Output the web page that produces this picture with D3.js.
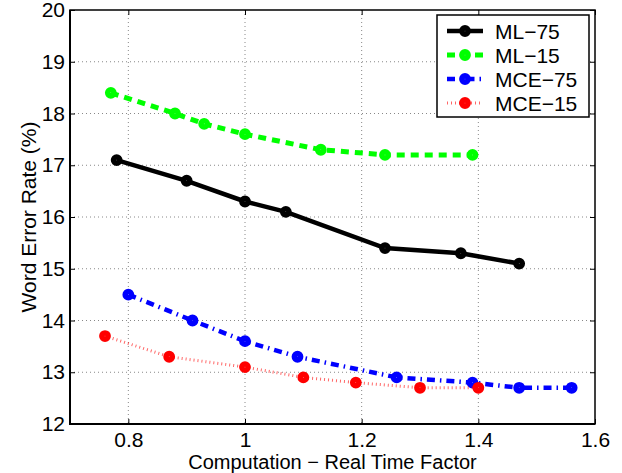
<html>
<head>
<script src="https://d3js.org/d3.v7.min.js"></script>
<style>
  body { margin:0; background:#fff; }
  text { font-family: "Liberation Sans", Arial, sans-serif; fill:#000; }
</style>
</head>
<body>
<svg id="chart" width="622" height="473"></svg>
<script>
// data
var names = ["ML\u221275", "ML\u221215", "MCE\u221275", "MCE\u221215"];
var mlx75 = [0.78, 0.90, 1.00, 1.07, 1.24, 1.37, 1.47];
var mly75 = [17.1, 16.7, 16.3, 16.1, 15.4, 15.3, 15.1];
var mlx15 = [0.77, 0.88, 0.93, 1.00, 1.13, 1.24, 1.39];
var mly15 = [18.4, 18.0, 17.8, 17.6, 17.3, 17.2, 17.2];
var mcex75 = [0.80, 0.91, 1.00, 1.09, 1.26, 1.39, 1.47, 1.56];
var mcey75 = [14.5, 14.0, 13.6, 13.3, 12.9, 12.8, 12.7, 12.7];
var mcex15 = [0.76, 0.87, 1.00, 1.10, 1.19, 1.30, 1.40];
var mcey15 = [13.7, 13.3, 13.1, 12.9, 12.8, 12.7, 12.7];
var xTicks = [0.8, 1.0, 1.2, 1.4, 1.6];
var yTicks = [12, 13, 14, 15, 16, 17, 18, 19, 20];

// plot box
var pL = 70, pR = 595, pT = 10, pB = 424;
var svg = d3.select("#chart");
var x = d3.scaleLinear().domain([0.7, 1.6]).range([pL, pR]);
var y = d3.scaleLinear().domain([12, 20]).range([pB, pT]);

// grid
var grid = svg.append("g").attr("stroke", "#888").attr("stroke-width", 1)
  .attr("stroke-dasharray", "1,3");
grid.selectAll(".gx").data(xTicks.filter(function(d){ return d < 1.6; })).enter()
  .append("line").attr("x1", function(d){ return x(d); }).attr("x2", function(d){ return x(d); })
  .attr("y1", pT).attr("y2", pB);
grid.selectAll(".gy").data(yTicks.filter(function(d){ return d > 12 && d < 20; })).enter()
  .append("line").attr("y1", function(d){ return y(d); }).attr("y2", function(d){ return y(d); })
  .attr("x1", pL).attr("x2", pR);

// axes (ticks pointing inward)
svg.append("g").attr("transform", "translate(0," + pB + ")")
  .call(d3.axisBottom(x).tickValues(xTicks).tickSize(-5).tickPadding(8)
    .tickFormat(function(d){ return d === 1 ? "1" : d3.format(".1f")(d); }));
svg.append("g").attr("transform", "translate(" + pL + ",0)")
  .call(d3.axisLeft(y).tickValues(yTicks).tickSize(-5).tickPadding(5));
svg.append("g").attr("transform", "translate(0," + pT + ")")
  .call(d3.axisTop(x).tickValues(xTicks).tickSize(-5).tickFormat(""));
svg.append("g").attr("transform", "translate(" + pR + ",0)")
  .call(d3.axisRight(y).tickValues(yTicks).tickSize(-5).tickFormat(""));
svg.selectAll(".domain").remove();
svg.selectAll(".tick line").attr("stroke", "#000").attr("stroke-width", 1);
svg.selectAll(".tick text").style("font-size", "21px").style("font-family", "Liberation Sans, Arial, sans-serif");
svg.append("rect").attr("x", pL).attr("y", pT).attr("width", pR - pL).attr("height", pB - pT)
  .attr("fill", "none").attr("stroke", "#000").attr("stroke-width", 1.5);
// heavier left/bottom edge like the reference
svg.append("path").attr("d", "M" + pL + "," + pT + "V" + pB + "H" + pR)
  .attr("fill", "none").attr("stroke", "#000").attr("stroke-width", 2);

// labels
svg.append("text").attr("x", (pL + pR) / 2).attr("y", 469).attr("text-anchor", "middle")
  .style("font-size", "20px").text("Computation \u2212 Real Time Factor");
svg.append("text").attr("transform", "translate(36," + ((pT + pB) / 2) + ") rotate(-90)")
  .attr("text-anchor", "middle").style("font-size", "21px").text("Word Error Rate (%)");

// series
var series = [
  { name: names[0], xs: mlx75, ys: mly75, color: "#000000", width: 4.5, dash: null, opacity: 1 },
  { name: names[1], xs: mlx15, ys: mly15, color: "#00ff00", width: 5, dash: "8,6", opacity: 1 },
  { name: names[2], xs: mcex75, ys: mcey75, color: "#0000ff", width: 4.5, dash: "8,5,1.5,5", opacity: 1 },
  { name: names[3], xs: mcex15, ys: mcey15, color: "#ff0000", width: 3, dash: "1,3", opacity: 0.6 }
];
var line = d3.line().x(function(d){ return x(d[0]); }).y(function(d){ return y(d[1]); });

series.forEach(function(s) {
  var pts = s.xs.map(function(v, i){ return [v, s.ys[i]]; });
  svg.append("path").datum(pts).attr("d", line)
    .attr("fill", "none").attr("stroke", s.color).attr("stroke-width", s.width)
    .attr("stroke-dasharray", s.dash).attr("stroke-opacity", s.opacity);
  svg.selectAll(null).data(pts).enter().append("circle")
    .attr("cx", function(d){ return x(d[0]); }).attr("cy", function(d){ return y(d[1]); })
    .attr("r", 3.1).attr("fill", "#fff").attr("stroke", s.color).attr("stroke-width", 5.6);
});

// legend
var lg = svg.append("g");
lg.append("rect").attr("x", 437).attr("y", 15).attr("width", 152).attr("height", 102)
  .attr("fill", "#fff").attr("stroke", "#000").attr("stroke-width", 1.5);
series.forEach(function(s, i) {
  var ly = 31 + i * 24;
  lg.append("line").attr("x1", 447).attr("x2", 483).attr("y1", ly).attr("y2", ly)
    .attr("stroke", s.color).attr("stroke-width", s.width)
    .attr("stroke-dasharray", s.dash).attr("stroke-opacity", s.opacity);
  lg.append("circle").attr("cx", 465).attr("cy", ly).attr("r", 3.1)
    .attr("fill", "#fff").attr("stroke", s.color).attr("stroke-width", 5.6);
  lg.append("text").attr("x", 495).attr("y", ly + 7.5).style("font-size", "21px").text(s.name);
});
</script>
</body>
</html>
